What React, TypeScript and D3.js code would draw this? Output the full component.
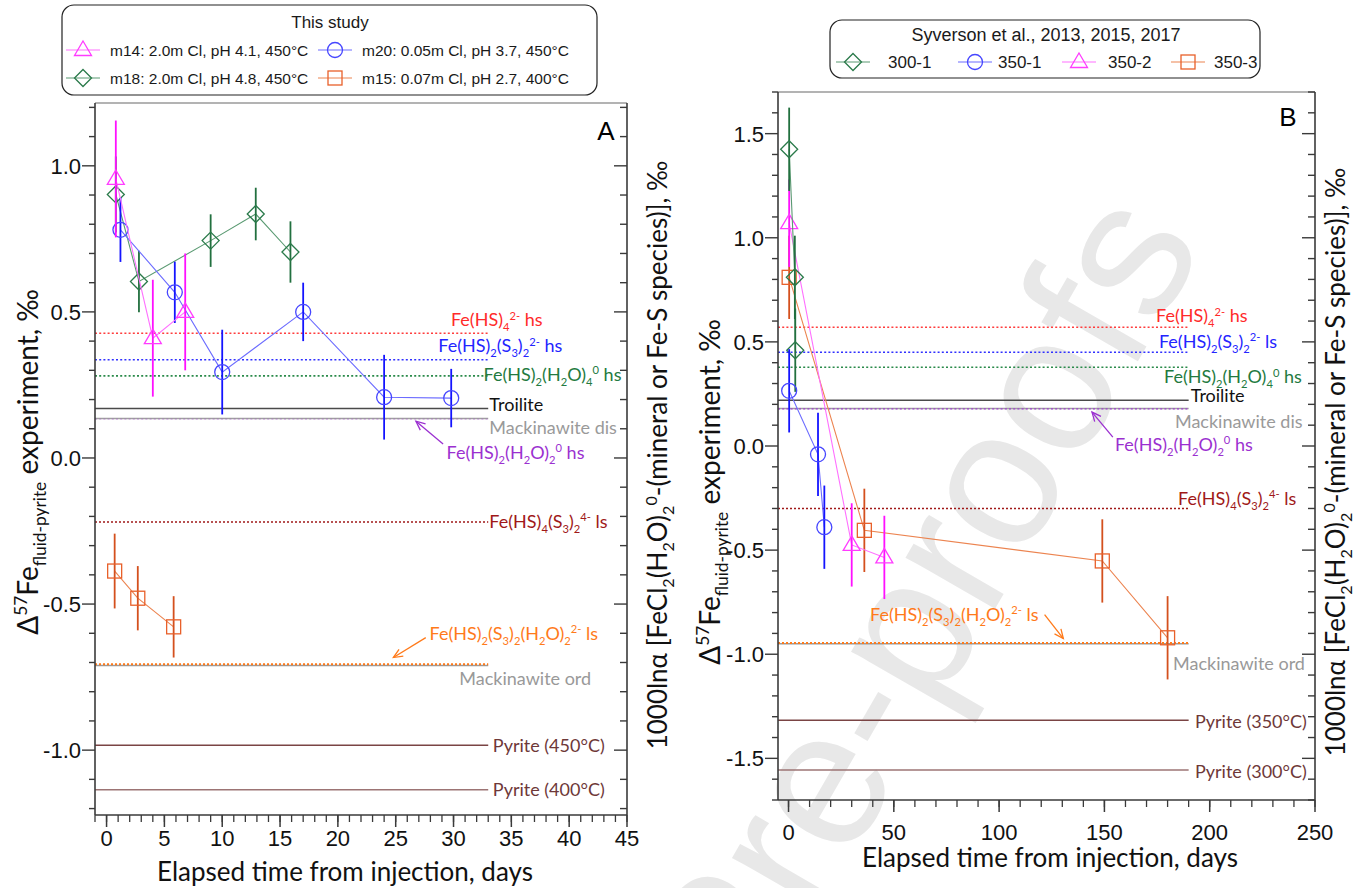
import React from 'react';
import * as d3 from 'd3';

// ---------- Panel A: this study (days, Δ57Fe fluid-pyrite, ±2SD) ----------
const m14Days = [0.8, 4.0, 6.8];
const m14Vals = [0.955, 0.41, 0.5];
const m14Errs = [0.2, 0.2, 0.2];

const m18Days = [0.8, 2.8, 9.0, 12.9, 15.9];
const m18Vals = [0.902, 0.604, 0.744, 0.835, 0.705];
const m18Errs = [0.13, 0.105, 0.09, 0.09, 0.105];

const m20Days = [1.2, 5.9, 10.0, 17.0, 24.0, 29.8];
const m20Vals = [0.781, 0.567, 0.294, 0.5, 0.208, 0.205];
const m20Errs = [0.11, 0.105, 0.145, 0.1, 0.145, 0.1];

const m15Days = [0.7, 2.7, 5.8];
const m15Vals = [-0.387, -0.48, -0.578];
const m15Errs = [0.128, 0.11, 0.105];

// ---------- Panel B: Syverson et al. ----------
const s3001Days = [0.3, 3.0, 3.2];
const s3001Vals = [1.425, 0.81, 0.46];
const s3001Errs = [0.2, 0.2, 0.2];

const s3501Days = [0.3, 14.0, 17.0];
const s3501Vals = [0.265, -0.04, -0.39];
const s3501Errs = [0.2, 0.2, 0.2];

const s3502Days = [0.3, 30.0, 45.5];
const s3502Vals = [1.07, -0.475, -0.535];
const s3502Errs = [0.21, 0.2, 0.2];

const s3503Days = [0.3, 36.0, 149.0, 180.0];
const s3503Vals = [0.81, -0.405, -0.552, -0.921];
const s3503Errs = [0.2, 0.2, 0.2, 0.2];

// ---------- reference fractionations (right axis) ----------
const refKeys = ['mackDis', 'feHS2H2O2', 'mackOrd', 'feHS2S3H2O', 'feHS4', 'feHS2S3', 'feHS2H2O4', 'troilite', 'feHS4S3', 'pyHot', 'pyCool'];
const refValsA = [0.135, 0.133, -0.71, -0.706, 0.427, 0.336, 0.281, 0.169, -0.219, -0.983, -1.136];
const refValsB = [0.18, 0.178, -0.95, -0.946, 0.57, 0.45, 0.378, 0.22, -0.3, -1.317, -1.556];
const refNamesA = ['Mackinawite dis', 'Fe(HS)_2(H_2O)_2^0 hs', 'Mackinawite ord', 'Fe(HS)_2(S_3)_2(H_2O)_2^{2-} ls', 'Fe(HS)_4^{2-} hs', 'Fe(HS)_2(S_3)_2^{2-} hs', 'Fe(HS)_2(H_2O)_4^0 hs', 'Troilite', 'Fe(HS)_4(S_3)_2^{4-} ls', 'Pyrite (450°C)', 'Pyrite (400°C)'];
const refNamesB = ['Mackinawite dis', 'Fe(HS)_2(H_2O)_2^0 hs', 'Mackinawite ord', 'Fe(HS)_2(S_3)_2(H_2O)_2^{2-} ls', 'Fe(HS)_4^{2-} hs', 'Fe(HS)_2(S_3)_2^{2-} ls', 'Fe(HS)_2(H_2O)_4^0 hs', 'Troilite', 'Fe(HS)_4(S_3)_2^{4-} ls', 'Pyrite (350°C)', 'Pyrite (300°C)'];

const legendA = ['m14: 2.0m Cl, pH 4.1, 450°C', 'm20: 0.05m Cl, pH 3.7, 450°C', 'm18: 2.0m Cl, pH 4.8, 450°C', 'm15: 0.07m Cl, pH 2.7, 400°C'];
const legendB = ['300-1', '350-1', '350-2', '350-3'];

const xTicksA = d3.range(0, 46, 5);
const xTicksB = d3.range(0, 251, 50);
const yTicksA = [-1, -0.5, 0, 0.5, 1];
const yTicksB = [-1.5, -1, -0.5, 0, 0.5, 1, 1.5];

// ---------- styles ----------
const FONT_AX = '"Liberation Sans", Arial, sans-serif';
const FONT_LB = 'Lato, "Open Sans", sans-serif';
const AXIS = '#3a3a3a';

const COL: Record<string, { mark: string; err: string; line: string }> = {
  magenta: { mark: '#ff3cff', err: '#ff10ff', line: '#ff70ff' },
  blue: { mark: '#4646ff', err: '#1414ff', line: '#6c6cff' },
  green: { mark: '#2a7a4a', err: '#22703f', line: '#5a9a72' },
  orange: { mark: '#e8602a', err: '#d4501e', line: '#ec8450' },
};

const refStyle: Record<string, { c: string; dash?: string; w: number; tc: string }> = {
  feHS4: { c: '#ff3d3d', dash: '2,2.2', w: 1.6, tc: '#ff2a2a' },
  feHS2S3: { c: '#3030ff', dash: '2,2.2', w: 1.6, tc: '#2424ff' },
  feHS2H2O4: { c: '#2a8a4a', dash: '2,2.2', w: 1.6, tc: '#237a40' },
  troilite: { c: '#4a4a4a', w: 1.5, tc: '#111' },
  mackDis: { c: '#a0a0a0', w: 1.5, tc: '#9a9a9a' },
  feHS2H2O2: { c: '#a040d0', dash: '2,2.2', w: 1.3, tc: '#9b30d0' },
  feHS4S3: { c: '#a01818', dash: '2,2', w: 1.4, tc: '#a01818' },
  feHS2S3H2O: { c: '#ff7a1a', dash: '2,2', w: 1.8, tc: '#ff7a1a' },
  mackOrd: { c: '#9a9a9a', w: 1.5, tc: '#999' },
  pyHot: { c: '#7a4444', w: 1.5, tc: '#6e3838' },
  pyCool: { c: '#9c7474', w: 1.5, tc: '#6e3838' },
};

// label anchors in data units [day, value, anchor], same order as refKeys
const labelPosA: [number, number, string][] = [
  [33.1, 0.105, 'start'], [29.4, 0.017, 'start'], [30.5, -0.755, 'start'], [42.5, -0.602, 'end'],
  [37.7, 0.472, 'end'], [39.4, 0.383, 'end'], [32.6, 0.284, 'start'], [33.1, 0.183, 'start'],
  [33.1, -0.219, 'start'], [33.4, -0.986, 'start'], [33.4, -1.136, 'start'],
];
const labelPosB: [number, number, string][] = [
  [183.5, 0.118, 'start'], [155, 0.005, 'start'], [182.6, -1.044, 'start'], [38.7, -0.81, 'start'],
  [174.5, 0.624, 'start'], [175.9, 0.5, 'start'], [178.3, 0.331, 'start'], [191, 0.24, 'start'],
  [185, -0.254, 'start'], [193, -1.325, 'start'], [193, -1.563, 'start'],
];

// ---------- helpers ----------
type Seg = { t: string; k: 'n' | 'sub' | 'sup' };
function parseRich(s: string): Seg[] {
  const out: Seg[] = [];
  let buf = '';
  let i = 0;
  while (i < s.length) {
    const c = s[i];
    if (c === '_' || c === '^') {
      if (buf) { out.push({ t: buf, k: 'n' }); buf = ''; }
      let t = '';
      if (s[i + 1] === '{') {
        const j = s.indexOf('}', i + 2);
        t = s.slice(i + 2, j);
        i = j + 1;
      } else {
        t = s[i + 1];
        i += 2;
      }
      out.push({ t, k: c === '_' ? 'sub' : 'sup' });
    } else {
      buf += c;
      i++;
    }
  }
  if (buf) out.push({ t: buf, k: 'n' });
  return out;
}

function Rich({ text, x = 0, y = 0, size, fill = '#000', anchor = 'start', family = FONT_LB, transform }: any) {
  const segs = parseRich(text);
  let cur = 0;
  return (
    <text x={x} y={y} fontSize={size} fill={fill} textAnchor={anchor} fontFamily={family}
      transform={transform} style={{ whiteSpace: 'pre' }}>
      {segs.map((s, i) => {
        const target = s.k === 'sub' ? size * 0.28 : s.k === 'sup' ? -size * 0.38 : 0;
        const dy = target - cur;
        cur = target;
        return <tspan key={i} dy={dy} fontSize={s.k === 'n' ? size : size * 0.62}>{s.t}</tspan>;
      })}
    </text>
  );
}

function Marker({ shape, x, y, color }: any) {
  const common = { fill: 'none', stroke: color, strokeWidth: 1.3 };
  if (shape === 'circle') return <circle cx={x} cy={y} r={7.5} {...common} />;
  if (shape === 'triangle') return <path d={`M${x},${y - 9}L${x + 8.5},${y + 5.5}L${x - 8.5},${y + 5.5}Z`} {...common} />;
  if (shape === 'diamond') return <path d={`M${x},${y - 8.5}L${x + 8.5},${y}L${x},${y + 8.5}L${x - 8.5},${y}Z`} {...common} />;
  return <rect x={x - 7} y={y - 7} width={14} height={14} {...common} />;
}

function Arrow({ x1, y1, x2, y2, color }: any) {
  const a = Math.atan2(y2 - y1, x2 - x1);
  const L = 10, s = 0.42;
  const p1 = [x2 - L * Math.cos(a - s), y2 - L * Math.sin(a - s)];
  const p2 = [x2 - L * Math.cos(a + s), y2 - L * Math.sin(a + s)];
  return (
    <g stroke={color} strokeWidth={1.3} fill="none">
      <line x1={x1} y1={y1} x2={x2} y2={y2} />
      <path d={`M${p1[0]},${p1[1]}L${x2},${y2}L${p2[0]},${p2[1]}`} />
    </g>
  );
}

function Panel({ cfg }: any) {
  const { x, y, xMajor, xMinorStep, yMajor, series, refVals, refNames, refEnd, labelPos, arrows, letter, letterPos, xTitle, labelY, leftTitle, rightTitle, purpleOpacity } = cfg;
  const [x0, x1] = x.range();
  const [yb, yt] = y.range();
  const yDom = y.domain();
  const xDom = x.domain();
  const xMinor = d3.range(Math.ceil(xDom[0] / xMinorStep) * xMinorStep, xDom[1] + 1e-9, xMinorStep);
  const yMinor = d3.range(Math.ceil(yDom[0] * 10) / 10, yDom[1] + 1e-9, 0.1).map((v) => Math.round(v * 10) / 10);
  const isMajorY = (v: number) => Math.abs(v * 2 - Math.round(v * 2)) < 1e-6;
  const line = d3.line<[number, number]>().x((d) => x(d[0])).y((d) => y(d[1]));

  return (
    <g>
      {/* reference lines */}
      {refKeys.map((k, i) => {
        const st = refStyle[k];
        return (
          <line key={k} x1={x0} x2={x(refEnd)} y1={y(refVals[i])} y2={y(refVals[i])}
            stroke={st.c} strokeWidth={st.w} strokeDasharray={st.dash}
            opacity={k === 'feHS2H2O2' ? purpleOpacity : 1} />
        );
      })}
      {refKeys.map((k, i) => {
        const [d, v, anc] = labelPos[i];
        return <Rich key={k} text={refNames[i]} x={x(d)} y={y(v) + 6.3} size={18} fill={refStyle[k].tc} anchor={anc} />;
      })}
      {arrows.map((a: any, i: number) => (
        <Arrow key={i} x1={x(a[0])} y1={y(a[1])} x2={x(a[2])} y2={y(a[3])} color={a[4]} />
      ))}

      {/* series */}
      {series.map((s: any) => {
        const pts: [number, number][] = s.days.map((d: number, i: number) => [d, s.vals[i]]);
        const c = COL[s.color];
        return (
          <g key={s.name}>
            <path d={line(pts) || ''} fill="none" stroke={c.line} strokeWidth={1.1} />
            {pts.map((p, i) => (
              <line key={'e' + i} x1={x(p[0])} x2={x(p[0])} y1={y(p[1] - s.errs[i])} y2={y(p[1] + s.errs[i])}
                stroke={c.err} strokeWidth={1.8} />
            ))}
            {pts.map((p, i) => <Marker key={'m' + i} shape={s.shape} x={x(p[0])} y={y(p[1])} color={c.mark} />)}
          </g>
        );
      })}

      {/* frame */}
      <line x1={x0} x2={x1} y1={yt} y2={yt} stroke="#9a9a9a" strokeWidth={1.5} />
      <line x1={x0} x2={x1} y1={yb} y2={yb} stroke={AXIS} strokeWidth={1.6} />
      <line x1={x0} x2={x0} y1={yt} y2={yb} stroke={AXIS} strokeWidth={1.6} />
      <line x1={x1} x2={x1} y1={yt} y2={yb} stroke={AXIS} strokeWidth={1.6} />

      {/* x ticks */}
      {xMinor.map((v: number) => (
        <line key={'xm' + v} x1={x(v)} x2={x(v)} y1={yb} y2={yb + 7} stroke={AXIS} strokeWidth={1.3} />
      ))}
      {xMajor.map((v: number) => (
        <g key={'xM' + v}>
          <line x1={x(v)} x2={x(v)} y1={yb} y2={yb + 12} stroke={AXIS} strokeWidth={1.5} />
          <text x={x(v)} y={labelY} textAnchor="middle" fontSize={22} fontFamily={FONT_AX} fill="#111">{v}</text>
        </g>
      ))}

      {/* y ticks left (outside) and right (inside) */}
      {yMinor.map((v: number) => {
        const big = isMajorY(v);
        return (
          <g key={'y' + v}>
            <line x1={x0 - (big ? 13 : 6)} x2={x0} y1={y(v)} y2={y(v)} stroke={AXIS} strokeWidth={1.4} />
            <line x1={x1 - (big ? 13 : 7)} x2={x1} y1={y(v)} y2={y(v)} stroke={AXIS} strokeWidth={1.4} />
          </g>
        );
      })}
      {yMajor.map((v: number) => (
        <text key={'yl' + v} x={x0 - 14} y={y(v) + 8} textAnchor="end" fontSize={22} fontFamily={FONT_AX} fill="#111">{v.toFixed(1)}</text>
      ))}

      <text x={letterPos[0]} y={letterPos[1]} fontSize={26} fontFamily={FONT_AX} textAnchor="middle">{letter}</text>

      {/* axis titles */}
      <text x={xTitle[0]} y={xTitle[1]} textAnchor="middle" fontSize={26} fontFamily={FONT_LB} fill="#111">
        Elapsed time from injection, days
      </text>
      <Rich text={'Δ^{57}Fe_{fluid-pyrite} experiment, ‰'} size={28} anchor="middle" fill="#111"
        transform={`translate(${leftTitle[0]},${leftTitle[1]}) rotate(-90)`} />
      <Rich text={'1000lnα [FeCl_2(H_2O)_2^0-(mineral or Fe-S species)], ‰'} size={26} anchor="middle" fill="#111"
        transform={`translate(${rightTitle[0]},${rightTitle[1]}) rotate(-90)`} />
    </g>
  );
}

function LegendEntry({ cx, cy, shape, color, text, tx, size = 17 }: any) {
  return (
    <g>
      <line x1={cx - 17} x2={cx + 17} y1={cy} y2={cy} stroke={COL[color].line} strokeWidth={1.2} />
      <Marker shape={shape} x={cx} y={cy} color={COL[color].mark} />
      <text x={tx} y={cy + 6} fontSize={size} fontFamily={FONT_AX} fill="#1a1a1a">{text}</text>
    </g>
  );
}

export default function App() {
  const xA = d3.scaleLinear().domain([-1, 45]).range([95, 627]);
  const yA = d3.scaleLinear().domain([-1.222, 1.215]).range([815, 103]);
  const xB = d3.scaleLinear().domain([-5, 250]).range([778, 1315]);
  const yB = d3.scaleLinear().domain([-1.7, 1.7]).range([800, 92]);

  const seriesA = [
    { name: 'm18', days: m18Days, vals: m18Vals, errs: m18Errs, color: 'green', shape: 'diamond' },
    { name: 'm20', days: m20Days, vals: m20Vals, errs: m20Errs, color: 'blue', shape: 'circle' },
    { name: 'm14', days: m14Days, vals: m14Vals, errs: m14Errs, color: 'magenta', shape: 'triangle' },
    { name: 'm15', days: m15Days, vals: m15Vals, errs: m15Errs, color: 'orange', shape: 'square' },
  ];
  const seriesB = [
    { name: '350-3', days: s3503Days, vals: s3503Vals, errs: s3503Errs, color: 'orange', shape: 'square' },
    { name: '350-2', days: s3502Days, vals: s3502Vals, errs: s3502Errs, color: 'magenta', shape: 'triangle' },
    { name: '300-1', days: s3001Days, vals: s3001Vals, errs: s3001Errs, color: 'green', shape: 'diamond' },
    { name: '350-1', days: s3501Days, vals: s3501Vals, errs: s3501Errs, color: 'blue', shape: 'circle' },
  ];

  const cfgA = {
    x: xA, y: yA, xMajor: xTicksA, xMinorStep: 1, yMajor: yTicksA, series: seriesA,
    refVals: refValsA, refNames: refNamesA, refEnd: 33, labelPos: labelPosA,
    arrows: [[29.1, 0.048, 26.75, 0.126, '#9b30d0'], [27.6, -0.615, 24.8, -0.683, '#ff7a1a']],
    letter: 'A', letterPos: [606, 140], xTitle: [345, 881], labelY: 846,
    leftTitle: [38, 462], rightTitle: [667, 455], purpleOpacity: 0.35,
  };
  const cfgB = {
    x: xB, y: yB, xMajor: xTicksB, xMinorStep: 10, yMajor: yTicksB, series: seriesB,
    refVals: refValsB, refNames: refNamesB, refEnd: 190, labelPos: labelPosB,
    arrows: [[154, 0.043, 144.1, 0.163, '#9b30d0'], [121.6, -0.81, 130.5, -0.925, '#ff7a1a']],
    letter: 'B', letterPos: [1288, 126], xTitle: [1050, 867], labelY: 840,
    leftTitle: [720, 492], rightTitle: [1345, 462], purpleOpacity: 1,
  };

  return (
    <div style={{ position: 'absolute', left: 0, top: 0 }}>
      <svg width={1357} height={888} viewBox="0 0 1357 888" style={{ display: 'block', background: '#fff' }}>
        {/* journal watermark */}
        <text transform="translate(1205,245) rotate(-60)" textAnchor="end" fontSize={195}
          fontFamily={FONT_AX} fill="#e8e8e8">Journal Pre-proofs</text>

        <Panel cfg={cfgA} />
        <Panel cfg={cfgB} />

        {/* legend A */}
        <rect x={62} y={5} width={535} height={90} rx={12} fill="#fff" stroke="#222" strokeWidth={1.2} />
        <text x={330} y={28} textAnchor="middle" fontSize={17} fontFamily={FONT_AX} fill="#1a1a1a">This study</text>
        <LegendEntry cx={83} cy={50} shape="triangle" color="magenta" text={legendA[0]} tx={110} size={15.5} />
        <LegendEntry cx={335} cy={50} shape="circle" color="blue" text={legendA[1]} tx={362} size={15.5} />
        <LegendEntry cx={83} cy={78} shape="diamond" color="green" text={legendA[2]} tx={110} size={15.5} />
        <LegendEntry cx={335} cy={78} shape="square" color="orange" text={legendA[3]} tx={362} size={15.5} />

        {/* legend B */}
        <rect x={830} y={20} width={430} height={58} rx={12} fill="#fff" stroke="#222" strokeWidth={1.2} />
        <text x={1046} y={41} textAnchor="middle" fontSize={18} fontFamily={FONT_AX} fill="#1a1a1a">Syverson et al., 2013, 2015, 2017</text>
        <LegendEntry cx={853} cy={62} shape="diamond" color="green" text={legendB[0]} tx={888} />
        <LegendEntry cx={975} cy={62} shape="circle" color="blue" text={legendB[1]} tx={998} />
        <LegendEntry cx={1079} cy={62} shape="triangle" color="magenta" text={legendB[2]} tx={1108} />
        <LegendEntry cx={1188} cy={62} shape="square" color="orange" text={legendB[3]} tx={1214} />
      </svg>
    </div>
  );
}
